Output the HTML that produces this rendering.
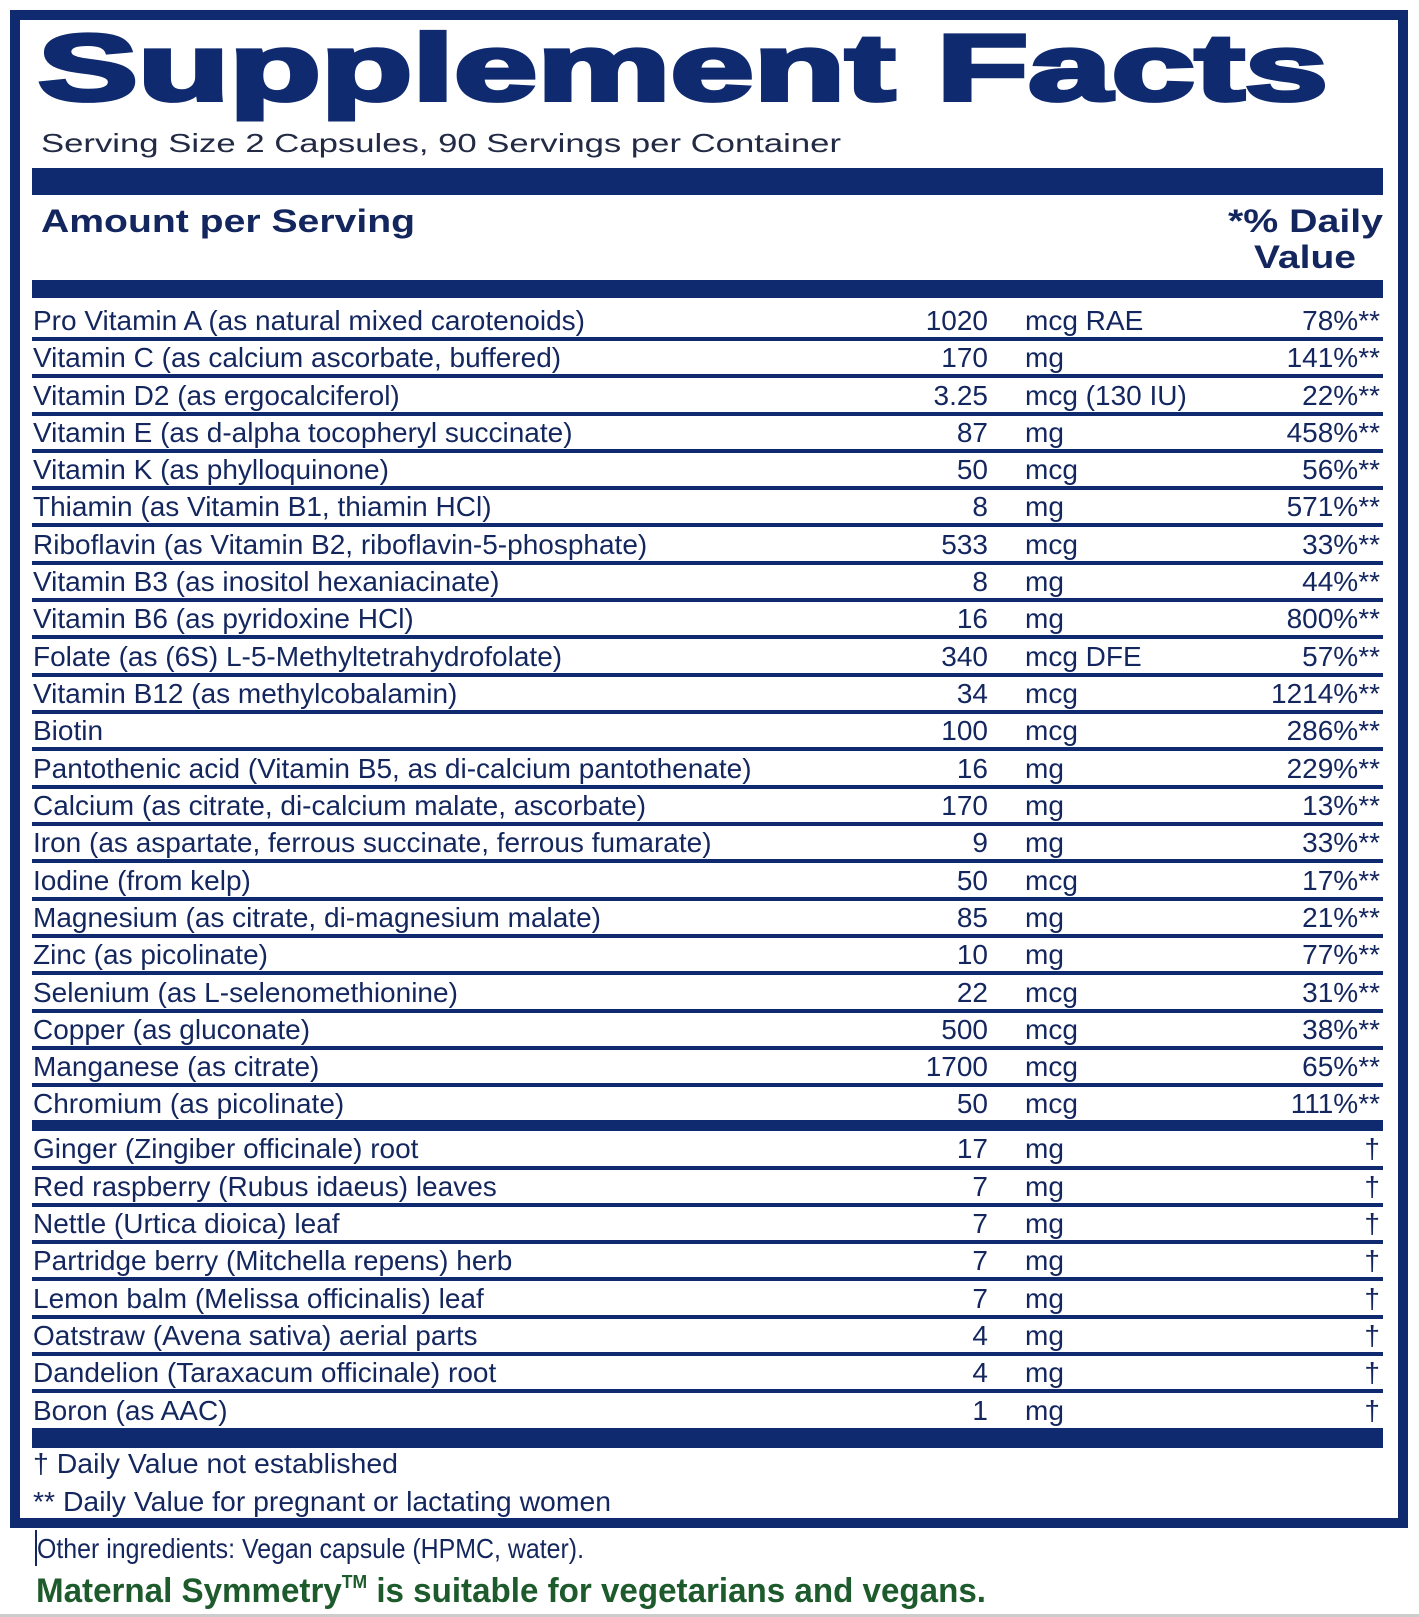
<!DOCTYPE html>
<html><head><meta charset="utf-8"><style>
html,body{margin:0;padding:0;background:#fff;}
svg{display:block;}
text{font-family:"Liberation Sans",Arial,sans-serif;}
</style></head><body>
<svg width="1419" height="1617" viewBox="0 0 1419 1617" xmlns="http://www.w3.org/2000/svg">
<rect x="0" y="0" width="1419" height="1617" fill="#fff"/>
<rect x="15" y="15" width="1388" height="1508" fill="none" stroke="#0f2a6e" stroke-width="10"/>
<text x="38" y="100" font-size="94" font-weight="bold" fill="#0f2a6e" stroke="#0f2a6e" stroke-width="4" textLength="1290" lengthAdjust="spacingAndGlyphs">Supplement Facts</text>
<text x="41" y="152" font-size="26" fill="#222a44" textLength="800" lengthAdjust="spacingAndGlyphs">Serving Size  2 Capsules, 90 Servings per Container</text>
<rect x="32" y="168" width="1351" height="27" fill="#0f2a6e"/>
<text x="41" y="232" font-size="32" font-weight="bold" fill="#13265e" textLength="374" lengthAdjust="spacingAndGlyphs">Amount per Serving</text>
<text x="1228" y="232" font-size="32" font-weight="bold" fill="#13265e" textLength="155" lengthAdjust="spacingAndGlyphs">*% Daily</text>
<text x="1254" y="268" font-size="32" font-weight="bold" fill="#13265e" textLength="102" lengthAdjust="spacingAndGlyphs">Value</text>
<rect x="32" y="280" width="1351" height="18" fill="#0f2a6e"/>
<g font-size="28" fill="#13265e">
<g>
<text x="33" y="330">Pro Vitamin A (as natural mixed carotenoids)</text><text x="988" y="330" text-anchor="end">1020</text><text x="1025" y="330">mcg RAE</text><text x="1380" y="330" text-anchor="end">78%**</text>
<text x="33" y="367">Vitamin C (as calcium ascorbate, buffered)</text><text x="988" y="367" text-anchor="end">170</text><text x="1025" y="367">mg</text><text x="1380" y="367" text-anchor="end">141%**</text>
<text x="33" y="405">Vitamin D2 (as ergocalciferol)</text><text x="988" y="405" text-anchor="end">3.25</text><text x="1025" y="405">mcg (130 IU)</text><text x="1380" y="405" text-anchor="end">22%**</text>
<text x="33" y="442">Vitamin E (as d-alpha tocopheryl succinate)</text><text x="988" y="442" text-anchor="end">87</text><text x="1025" y="442">mg</text><text x="1380" y="442" text-anchor="end">458%**</text>
<text x="33" y="479">Vitamin K (as phylloquinone)</text><text x="988" y="479" text-anchor="end">50</text><text x="1025" y="479">mcg</text><text x="1380" y="479" text-anchor="end">56%**</text>
<text x="33" y="516">Thiamin (as Vitamin B1, thiamin HCl)</text><text x="988" y="516" text-anchor="end">8</text><text x="1025" y="516">mg</text><text x="1380" y="516" text-anchor="end">571%**</text>
<text x="33" y="554">Riboflavin (as Vitamin B2, riboflavin-5-phosphate)</text><text x="988" y="554" text-anchor="end">533</text><text x="1025" y="554">mcg</text><text x="1380" y="554" text-anchor="end">33%**</text>
<text x="33" y="591">Vitamin B3 (as inositol hexaniacinate)</text><text x="988" y="591" text-anchor="end">8</text><text x="1025" y="591">mg</text><text x="1380" y="591" text-anchor="end">44%**</text>
<text x="33" y="628">Vitamin B6 (as pyridoxine HCl)</text><text x="988" y="628" text-anchor="end">16</text><text x="1025" y="628">mg</text><text x="1380" y="628" text-anchor="end">800%**</text>
<text x="33" y="666">Folate (as (6S) L-5-Methyltetrahydrofolate)</text><text x="988" y="666" text-anchor="end">340</text><text x="1025" y="666">mcg DFE</text><text x="1380" y="666" text-anchor="end">57%**</text>
<text x="33" y="703">Vitamin B12 (as methylcobalamin)</text><text x="988" y="703" text-anchor="end">34</text><text x="1025" y="703">mcg</text><text x="1380" y="703" text-anchor="end">1214%**</text>
<text x="33" y="740">Biotin</text><text x="988" y="740" text-anchor="end">100</text><text x="1025" y="740">mcg</text><text x="1380" y="740" text-anchor="end">286%**</text>
<text x="33" y="778">Pantothenic acid (Vitamin B5, as di-calcium pantothenate)</text><text x="988" y="778" text-anchor="end">16</text><text x="1025" y="778">mg</text><text x="1380" y="778" text-anchor="end">229%**</text>
<text x="33" y="815">Calcium (as citrate, di-calcium malate, ascorbate)</text><text x="988" y="815" text-anchor="end">170</text><text x="1025" y="815">mg</text><text x="1380" y="815" text-anchor="end">13%**</text>
<text x="33" y="852">Iron (as aspartate, ferrous succinate, ferrous fumarate)</text><text x="988" y="852" text-anchor="end">9</text><text x="1025" y="852">mg</text><text x="1380" y="852" text-anchor="end">33%**</text>
<text x="33" y="890">Iodine (from kelp)</text><text x="988" y="890" text-anchor="end">50</text><text x="1025" y="890">mcg</text><text x="1380" y="890" text-anchor="end">17%**</text>
<text x="33" y="927">Magnesium (as citrate, di-magnesium malate)</text><text x="988" y="927" text-anchor="end">85</text><text x="1025" y="927">mg</text><text x="1380" y="927" text-anchor="end">21%**</text>
<text x="33" y="964">Zinc (as picolinate)</text><text x="988" y="964" text-anchor="end">10</text><text x="1025" y="964">mg</text><text x="1380" y="964" text-anchor="end">77%**</text>
<text x="33" y="1002">Selenium (as L-selenomethionine)</text><text x="988" y="1002" text-anchor="end">22</text><text x="1025" y="1002">mcg</text><text x="1380" y="1002" text-anchor="end">31%**</text>
<text x="33" y="1039">Copper (as gluconate)</text><text x="988" y="1039" text-anchor="end">500</text><text x="1025" y="1039">mcg</text><text x="1380" y="1039" text-anchor="end">38%**</text>
<text x="33" y="1076">Manganese (as citrate)</text><text x="988" y="1076" text-anchor="end">1700</text><text x="1025" y="1076">mcg</text><text x="1380" y="1076" text-anchor="end">65%**</text>
<text x="33" y="1113">Chromium (as picolinate)</text><text x="988" y="1113" text-anchor="end">50</text><text x="1025" y="1113">mcg</text><text x="1380" y="1113" text-anchor="end">111%**</text>
</g>
<g>
<text x="33" y="1158">Ginger (Zingiber officinale) root</text><text x="988" y="1158" text-anchor="end">17</text><text x="1025" y="1158">mg</text><text x="1380" y="1158" text-anchor="end">†</text>
<text x="33" y="1196">Red raspberry (Rubus idaeus) leaves</text><text x="988" y="1196" text-anchor="end">7</text><text x="1025" y="1196">mg</text><text x="1380" y="1196" text-anchor="end">†</text>
<text x="33" y="1233">Nettle (Urtica dioica) leaf</text><text x="988" y="1233" text-anchor="end">7</text><text x="1025" y="1233">mg</text><text x="1380" y="1233" text-anchor="end">†</text>
<text x="33" y="1270">Partridge berry (Mitchella repens) herb</text><text x="988" y="1270" text-anchor="end">7</text><text x="1025" y="1270">mg</text><text x="1380" y="1270" text-anchor="end">†</text>
<text x="33" y="1308">Lemon balm (Melissa officinalis) leaf</text><text x="988" y="1308" text-anchor="end">7</text><text x="1025" y="1308">mg</text><text x="1380" y="1308" text-anchor="end">†</text>
<text x="33" y="1345">Oatstraw (Avena sativa) aerial parts</text><text x="988" y="1345" text-anchor="end">4</text><text x="1025" y="1345">mg</text><text x="1380" y="1345" text-anchor="end">†</text>
<text x="33" y="1382">Dandelion (Taraxacum officinale) root</text><text x="988" y="1382" text-anchor="end">4</text><text x="1025" y="1382">mg</text><text x="1380" y="1382" text-anchor="end">†</text>
<text x="33" y="1420">Boron (as AAC)</text><text x="988" y="1420" text-anchor="end">1</text><text x="1025" y="1420">mg</text><text x="1380" y="1420" text-anchor="end">†</text>
</g>
</g>
<g fill="#0f2a6e">
<rect x="32" y="337" width="1351" height="4"/>
<rect x="32" y="374" width="1351" height="4"/>
<rect x="32" y="412" width="1351" height="4"/>
<rect x="32" y="449" width="1351" height="4"/>
<rect x="32" y="486" width="1351" height="4"/>
<rect x="32" y="523" width="1351" height="4"/>
<rect x="32" y="561" width="1351" height="4"/>
<rect x="32" y="598" width="1351" height="4"/>
<rect x="32" y="635" width="1351" height="4"/>
<rect x="32" y="673" width="1351" height="4"/>
<rect x="32" y="710" width="1351" height="4"/>
<rect x="32" y="747" width="1351" height="4"/>
<rect x="32" y="785" width="1351" height="4"/>
<rect x="32" y="822" width="1351" height="4"/>
<rect x="32" y="859" width="1351" height="4"/>
<rect x="32" y="897" width="1351" height="4"/>
<rect x="32" y="934" width="1351" height="4"/>
<rect x="32" y="971" width="1351" height="4"/>
<rect x="32" y="1009" width="1351" height="4"/>
<rect x="32" y="1046" width="1351" height="4"/>
<rect x="32" y="1083" width="1351" height="4"/>
<rect x="32" y="1120" width="1351" height="11"/>
<rect x="32" y="1166" width="1351" height="4"/>
<rect x="32" y="1203" width="1351" height="4"/>
<rect x="32" y="1240" width="1351" height="4"/>
<rect x="32" y="1277" width="1351" height="4"/>
<rect x="32" y="1315" width="1351" height="4"/>
<rect x="32" y="1352" width="1351" height="4"/>
<rect x="32" y="1389" width="1351" height="4"/>
<rect x="32" y="1428" width="1351" height="20"/>
</g>
<text x="33" y="1473" font-size="28" fill="#13265e" textLength="365" lengthAdjust="spacingAndGlyphs">†  Daily Value not established</text>
<text x="33" y="1511" font-size="28" fill="#13265e" textLength="578" lengthAdjust="spacingAndGlyphs">** Daily Value for pregnant or lactating women</text>
<rect x="35" y="1530" width="2" height="36" fill="#13265e"/>
<text x="37" y="1558" font-size="28" fill="#13265e" textLength="547" lengthAdjust="spacingAndGlyphs">Other ingredients: Vegan capsule (HPMC, water).</text>
<text x="36" y="1602" font-size="34" font-weight="bold" fill="#1d5a2c" textLength="950" lengthAdjust="spacingAndGlyphs">Maternal Symmetry<tspan font-size="18" dy="-14">TM</tspan><tspan dy="14"> is suitable for vegetarians and vegans.</tspan></text>
<rect x="0" y="1614" width="1419" height="3" fill="#ccc"/>
</svg>
</body></html>
